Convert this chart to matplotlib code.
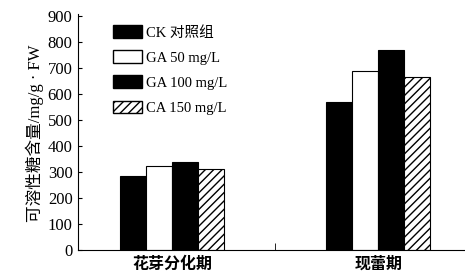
import numpy as np
import matplotlib
matplotlib.use("Agg")
import matplotlib.pyplot as plt
from matplotlib.patches import Patch

plt.rcParams['font.family'] = ['Liberation Serif', 'Noto Sans CJK SC', 'DejaVu Sans']
plt.rcParams['hatch.linewidth'] = 1.0

stages = ["花芽分化期", "现蕾期"]
treatments = ["CK 对照组", "GA 50 mg/L", "GA 100 mg/L", "CA 150 mg/L"]
values = [
    [285, 570],   # CK
    [325, 690],   # GA 50
    [340, 770],   # GA 100
    [310, 665],   # CA 150
]
y_ticks = [0, 100, 200, 300, 400, 500, 600, 700, 800, 900]

faces = ["black", "white", "black", "white"]
hatches = [None, None, None, "////"]

fig = plt.figure(figsize=(4.65, 2.73), dpi=100)
ax = fig.add_axes([0.168, 0.084, 0.832, 0.857])

x = np.arange(len(stages))
width = 0.126
for i, vals in enumerate(values):
    ax.bar(x + (i - 1.5) * width, vals, width, color=faces[i], edgecolor="black",
           linewidth=0.8, hatch=hatches[i])

ax.set_xlim(-0.456, 1.42)
ax.set_ylim(0, 900)
ax.set_yticks(y_ticks)
ax.tick_params(axis="y", direction="in", length=3, labelsize=12, pad=4)
ax.set_xticks(x)
ax.set_xticklabels(stages, fontsize=11.5, fontweight="bold", family=['Noto Sans CJK SC'])
ax.tick_params(axis="x", length=0, pad=4)
ax.set_xticks([0.5], minor=True)
ax.tick_params(axis="x", which="minor", direction="in", length=5)
ax.spines["top"].set_visible(False)
ax.spines["right"].set_visible(False)
ax.spines["left"].set_bounds(0, 910)
ax.set_ylabel("可溶性糖含量/mg/g · FW", fontsize=12,
              family=['Liberation Serif', 'Noto Sans CJK SC'], labelpad=3)

handles = [Patch(facecolor=faces[i], edgecolor="black", hatch=hatches[i]) for i in range(4)]
ax.legend(handles, treatments, loc="upper left", bbox_to_anchor=(0.075, 0.985), frameon=False,
          fontsize=10.5, handlelength=2.0, handleheight=0.9, handletextpad=0.25,
          labelspacing=0.75, borderaxespad=0)

fig.savefig("out.png", dpi=100)
